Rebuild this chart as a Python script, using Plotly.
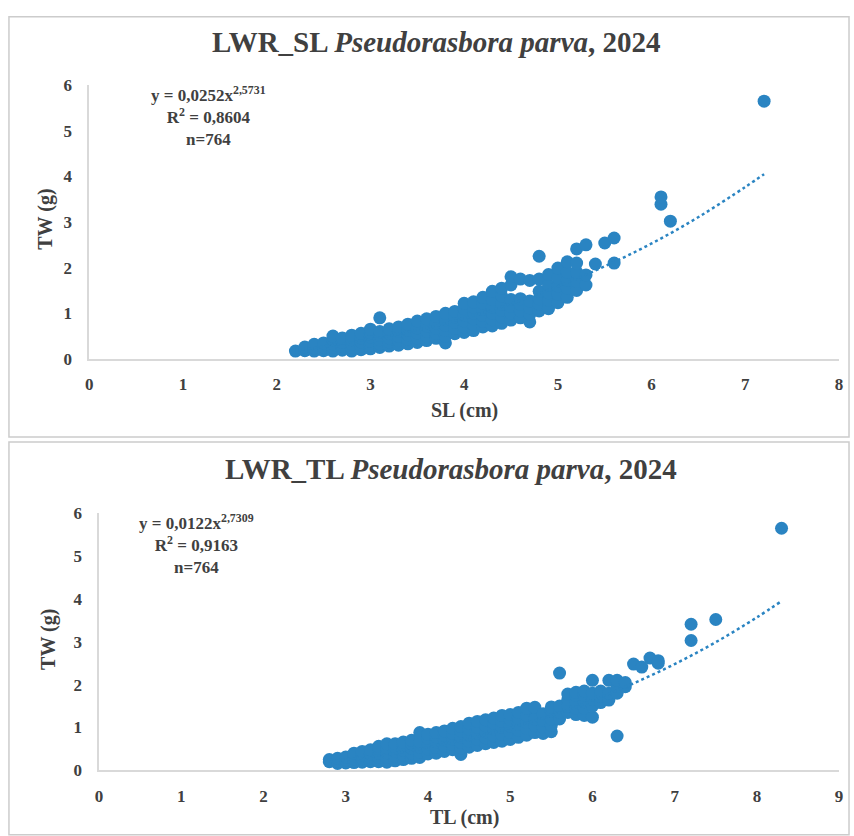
import plotly.graph_objects as go

# ---------------- data ----------------
# Top chart: standard length (cm) vs total weight (g)
sl_points = [
    (2.2, 0.17),
    (2.3, 0.18), (2.3, 0.26),
    (2.4, 0.17), (2.4, 0.24), (2.4, 0.32),
    (2.5, 0.18), (2.5, 0.26), (2.5, 0.35),
    (2.6, 0.17), (2.6, 0.25), (2.6, 0.33), (2.6, 0.42), (2.6, 0.50),
    (2.7, 0.19), (2.7, 0.27), (2.7, 0.36), (2.7, 0.46),
    (2.8, 0.17), (2.8, 0.25), (2.8, 0.33), (2.8, 0.42), (2.8, 0.52),
    (2.9, 0.20), (2.9, 0.28), (2.9, 0.37), (2.9, 0.46), (2.9, 0.56),
    (3.0, 0.22), (3.0, 0.30), (3.0, 0.39), (3.0, 0.48), (3.0, 0.57), (3.0, 0.65),
    (3.1, 0.25), (3.1, 0.33), (3.1, 0.42), (3.1, 0.51), (3.1, 0.60), (3.1, 0.90),
    (3.2, 0.28), (3.2, 0.37), (3.2, 0.46), (3.2, 0.56), (3.2, 0.66),
    (3.3, 0.30), (3.3, 0.40), (3.3, 0.50), (3.3, 0.60), (3.3, 0.70),
    (3.4, 0.33), (3.4, 0.43), (3.4, 0.53), (3.4, 0.63), (3.4, 0.76),
    (3.5, 0.36), (3.5, 0.46), (3.5, 0.57), (3.5, 0.68), (3.5, 0.83),
    (3.6, 0.40), (3.6, 0.50), (3.6, 0.61), (3.6, 0.72), (3.6, 0.88),
    (3.7, 0.45), (3.7, 0.56), (3.7, 0.67), (3.7, 0.79), (3.7, 0.93),
    (3.8, 0.35), (3.8, 0.50), (3.8, 0.62), (3.8, 0.74), (3.8, 0.86), (3.8, 1.00),
    (3.9, 0.55), (3.9, 0.67), (3.9, 0.80), (3.9, 0.92), (3.9, 1.04),
    (4.0, 0.58), (4.0, 0.70), (4.0, 0.83), (4.0, 0.96), (4.0, 1.10), (4.0, 1.22),
    (4.1, 0.62), (4.1, 0.75), (4.1, 0.88), (4.1, 1.01), (4.1, 1.14), (4.1, 1.25),
    (4.2, 0.70), (4.2, 0.82), (4.2, 0.95), (4.2, 1.08), (4.2, 1.22), (4.2, 1.35),
    (4.3, 0.72), (4.3, 0.86), (4.3, 1.00), (4.3, 1.14), (4.3, 1.30), (4.3, 1.48),
    (4.4, 0.78), (4.4, 0.92), (4.4, 1.06), (4.4, 1.20), (4.4, 1.38), (4.4, 1.55),
    (4.5, 0.85), (4.5, 1.00), (4.5, 1.15), (4.5, 1.30), (4.5, 1.62), (4.5, 1.80),
    (4.6, 0.90), (4.6, 1.05), (4.6, 1.20), (4.6, 1.32), (4.6, 1.75),
    (4.7, 0.81), (4.7, 0.98), (4.7, 1.12), (4.7, 1.27), (4.7, 1.72),
    (4.8, 1.05), (4.8, 1.20), (4.8, 1.32), (4.8, 1.48), (4.8, 1.75), (4.8, 2.25),
    (4.9, 1.10), (4.9, 1.28), (4.9, 1.45), (4.9, 1.62), (4.9, 1.85),
    (5.0, 1.23), (5.0, 1.42), (5.0, 1.60), (5.0, 1.78), (5.0, 1.99),
    (5.1, 1.35), (5.1, 1.55), (5.1, 1.72), (5.1, 1.90), (5.1, 2.13),
    (5.2, 1.50), (5.2, 1.70), (5.2, 1.90), (5.2, 2.10), (5.2, 2.41),
    (5.3, 1.62), (5.3, 1.84), (5.3, 2.50),
    (5.4, 2.08), (5.5, 2.54), (5.6, 2.10), (5.6, 2.65),
    (6.1, 3.39), (6.1, 3.55), (6.2, 3.02), (7.2, 5.65),
]
sl_cm = [p[0] for p in sl_points]
sl_tw = [p[1] for p in sl_points]

# dotted power trend line of the top chart
sl_trend_x = [2.2, 2.5, 3.0, 3.5, 4.0, 4.5, 5.0, 5.5, 6.0, 6.5, 7.0, 7.2]
sl_trend_y = [0.19, 0.27, 0.43, 0.63, 0.89, 1.21, 1.59, 2.03, 2.53, 3.11, 3.77, 4.05]

# Bottom chart: total length (cm) vs total weight (g)
tl_points = [
    (2.8, 0.20), (2.8, 0.25),
    (2.9, 0.16), (2.9, 0.22), (2.9, 0.28),
    (3.0, 0.17), (3.0, 0.24), (3.0, 0.31),
    (3.1, 0.18), (3.1, 0.26), (3.1, 0.34), (3.1, 0.40),
    (3.2, 0.19), (3.2, 0.27), (3.2, 0.35), (3.2, 0.44),
    (3.3, 0.20), (3.3, 0.29), (3.3, 0.38), (3.3, 0.48),
    (3.4, 0.20), (3.4, 0.30), (3.4, 0.40), (3.4, 0.50), (3.4, 0.56),
    (3.5, 0.19), (3.5, 0.30), (3.5, 0.41), (3.5, 0.52), (3.5, 0.62),
    (3.6, 0.22), (3.6, 0.33), (3.6, 0.44), (3.6, 0.55), (3.6, 0.62),
    (3.7, 0.25), (3.7, 0.36), (3.7, 0.47), (3.7, 0.58), (3.7, 0.66),
    (3.8, 0.28), (3.8, 0.40), (3.8, 0.51), (3.8, 0.62), (3.8, 0.70),
    (3.9, 0.30), (3.9, 0.42), (3.9, 0.54), (3.9, 0.66), (3.9, 0.88),
    (4.0, 0.38), (4.0, 0.50), (4.0, 0.62), (4.0, 0.74), (4.0, 0.84),
    (4.1, 0.40), (4.1, 0.53), (4.1, 0.66), (4.1, 0.78), (4.1, 0.88),
    (4.2, 0.44), (4.2, 0.57), (4.2, 0.70), (4.2, 0.82), (4.2, 0.92),
    (4.3, 0.48), (4.3, 0.60), (4.3, 0.73), (4.3, 0.86), (4.3, 0.98),
    (4.4, 0.37), (4.4, 0.52), (4.4, 0.65), (4.4, 0.78), (4.4, 0.92), (4.4, 1.02),
    (4.5, 0.54), (4.5, 0.68), (4.5, 0.82), (4.5, 0.96), (4.5, 1.10),
    (4.6, 0.58), (4.6, 0.72), (4.6, 0.86), (4.6, 1.00), (4.6, 1.14),
    (4.7, 0.62), (4.7, 0.76), (4.7, 0.90), (4.7, 1.04), (4.7, 1.18),
    (4.8, 0.65), (4.8, 0.80), (4.8, 0.95), (4.8, 1.10), (4.8, 1.22),
    (4.9, 0.68), (4.9, 0.84), (4.9, 1.00), (4.9, 1.14), (4.9, 1.28),
    (5.0, 0.72), (5.0, 0.88), (5.0, 1.03), (5.0, 1.18), (5.0, 1.30),
    (5.1, 0.77), (5.1, 0.93), (5.1, 1.08), (5.1, 1.22), (5.1, 1.35),
    (5.2, 0.82), (5.2, 0.98), (5.2, 1.12), (5.2, 1.28), (5.2, 1.45),
    (5.3, 0.88), (5.3, 1.04), (5.3, 1.20), (5.3, 1.47),
    (5.4, 0.86), (5.4, 1.00), (5.4, 1.16), (5.4, 1.32),
    (5.5, 0.90), (5.5, 1.05), (5.5, 1.20), (5.5, 1.38), (5.5, 1.48),
    (5.6, 1.20), (5.6, 1.35), (5.6, 1.50), (5.6, 2.27),
    (5.7, 1.35), (5.7, 1.50), (5.7, 1.65), (5.7, 1.78),
    (5.8, 1.30), (5.8, 1.45), (5.8, 1.60), (5.8, 1.75), (5.8, 1.82),
    (5.9, 1.28), (5.9, 1.45), (5.9, 1.60), (5.9, 1.75), (5.9, 1.85),
    (6.0, 1.24), (6.0, 1.50), (6.0, 1.65), (6.0, 1.80), (6.0, 2.10),
    (6.1, 1.58), (6.1, 1.72), (6.1, 1.85),
    (6.2, 1.64), (6.2, 1.80), (6.2, 2.10),
    (6.3, 0.80), (6.3, 1.80), (6.3, 1.95), (6.3, 2.10),
    (6.4, 1.95), (6.4, 2.05),
    (6.5, 2.48), (6.6, 2.41), (6.7, 2.62), (6.8, 2.50), (6.8, 2.56),
    (7.2, 3.03), (7.2, 3.41), (7.5, 3.52), (8.3, 5.65),
]
tl_cm = [p[0] for p in tl_points]
tl_tw = [p[1] for p in tl_points]

# dotted power trend line of the bottom chart
tl_trend_x = [2.8, 3.0, 3.5, 4.0, 4.5, 5.0, 5.5, 6.0, 6.5, 7.0, 7.5, 8.0, 8.3]
tl_trend_y = [0.20, 0.25, 0.37, 0.54, 0.74, 0.99, 1.28, 1.63, 2.03, 2.48, 2.99, 3.57, 3.95]

top_title = "<b>LWR_SL <i>Pseudorasbora parva</i>, 2024</b>"
bottom_title = "<b>LWR_TL <i>Pseudorasbora parva</i>, 2024</b>"
top_eq = "<b>y = 0,0252x<sup>2,5731</sup><br>R<sup>2</sup> = 0,8604<br>n=764</b>"
bottom_eq = "<b>y = 0,0122x<sup>2,7309</sup><br>R<sup>2</sup> = 0,9163<br>n=764</b>"

# ---------------- styling ----------------
W, H = 854, 836
BLUE = "#2A84C2"
TXT = "#404040"
AX = "#d9d9d9"
SERIF = "Liberation Serif, Times New Roman, DejaVu Serif, serif"


def px(x):
    return x / W


def py(y):
    return 1 - y / H


fig = go.Figure()
fig.add_trace(go.Scatter(x=sl_cm, y=sl_tw, mode="markers",
                         marker=dict(size=13, color=BLUE, line=dict(width=0)),
                         xaxis="x", yaxis="y", hoverinfo="skip"))
fig.add_trace(go.Scatter(x=sl_trend_x, y=sl_trend_y, mode="lines",
                         line=dict(color=BLUE, width=2.5, dash="dot", shape="spline"),
                         xaxis="x", yaxis="y", hoverinfo="skip"))
fig.add_trace(go.Scatter(x=tl_cm, y=tl_tw, mode="markers",
                         marker=dict(size=13, color=BLUE, line=dict(width=0)),
                         xaxis="x2", yaxis="y2", hoverinfo="skip"))
fig.add_trace(go.Scatter(x=tl_trend_x, y=tl_trend_y, mode="lines",
                         line=dict(color=BLUE, width=2.5, dash="dot", shape="spline"),
                         xaxis="x2", yaxis="y2", hoverinfo="skip"))

tickfont = dict(family=SERIF, size=17, color=TXT, weight="bold")
common = dict(showgrid=False, zeroline=False, showline=True, linecolor=AX,
              linewidth=1.5, ticks="", tickfont=tickfont, dtick=1)

fig.update_layout(
    width=W, height=H,
    margin=dict(l=0, r=0, t=0, b=0),
    paper_bgcolor="white", plot_bgcolor="white",
    showlegend=False,
    font=dict(family=SERIF, color=TXT),
    xaxis=dict(domain=[px(86), px(843)], anchor="y", range=[0, 8],
               ticklabelstandoff=9, **common),
    yaxis=dict(domain=[py(358), py(78)], anchor="x", range=[0, 6],
               ticklabelstandoff=12, **common),
    xaxis2=dict(domain=[px(96), px(843)], anchor="y2", range=[0, 9],
                ticklabelstandoff=10, **common),
    yaxis2=dict(domain=[py(779), py(516)], anchor="x2", range=[0, 6],
                ticklabelstandoff=12, **common),
)

shapes = [
    dict(type="rect", xref="paper", yref="paper", x0=px(5), x1=px(853),
         y0=py(438), y1=py(8), line=dict(color="#cccccc", width=1.5)),
    dict(type="rect", xref="paper", yref="paper", x0=px(5), x1=px(853),
         y0=py(845), y1=py(443), line=dict(color="#cccccc", width=1.5)),
]
fig.update_layout(shapes=shapes)

ann = []


def label(text, x, y, size, angle=0):
    ann.append(dict(text=text, x=px(x), y=py(y), xref="paper", yref="paper",
                    showarrow=False, xanchor="center", yanchor="middle",
                    align="center", textangle=angle,
                    font=dict(family=SERIF, size=size, color=TXT)))


label(top_title, 437, 34, 29)
label(bottom_title, 451, 471, 29)
label("<b>SL (cm)</b>", 465, 411, 20)
label("<b>TL (cm)</b>", 465, 827, 20)
label("<b>TW (g)</b>", 42, 215, 20, -90)
label("<b>TW (g)</b>", 45, 645, 20, -90)
label(top_eq, 206, 110, 17)
label(bottom_eq, 194, 547, 17)
fig.update_layout(annotations=ann)

fig.write_html("out.html", config={"displayModeBar": False},
               post_script="document.body.style.margin='0';")
